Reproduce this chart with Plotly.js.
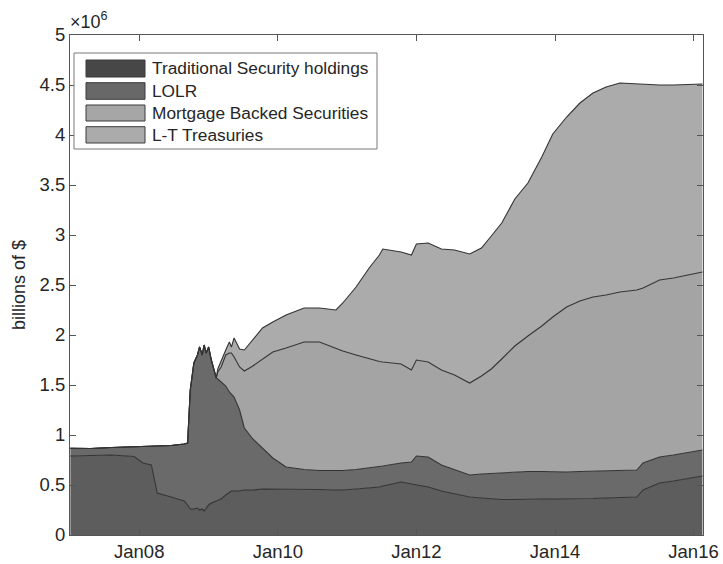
<!DOCTYPE html>
<html>
<head>
<meta charset="utf-8">
<script src="https://cdn.plot.ly/plotly-3.0.1.min.js"></script>
<style>html,body{margin:0;padding:0;background:#fff;}#chart{width:723px;height:564px;}</style>
</head>
<body>
<div id="chart"></div>
<script>
// Dates of observations
const dates = [
 '2007-01-03','2007-04-20','2007-08-08','2007-12-05','2008-01-20','2008-03-05','2008-04-05','2008-06-17',
 '2008-08-25','2008-09-12','2008-09-26','2008-10-15','2008-11-03','2008-11-14','2008-11-28','2008-12-08',
 '2008-12-19','2009-01-01','2009-01-15','2009-02-10','2009-02-18','2009-03-08','2009-04-01','2009-04-20',
 '2009-05-01','2009-05-15','2009-06-13','2009-07-08','2009-08-22','2009-10-12','2009-12-05','2010-02-13',
 '2010-05-19','2010-08-08','2010-11-03','2010-12-09','2011-02-17','2011-04-27','2011-06-20','2011-07-08',
 '2011-10-12','2011-12-06','2012-01-01','2012-03-03','2012-05-12','2012-07-20','2012-10-08','2012-12-09',
 '2013-01-30','2013-03-26','2013-06-03','2013-08-11','2013-10-23','2013-12-20','2014-03-03','2014-05-12',
 '2014-07-20','2014-09-27','2014-12-09','2015-03-08','2015-04-10','2015-07-06','2015-09-17','2016-02-17'
];
// Values in units of 10^6
const traditional = [
 0.79,0.795,0.80,0.785,0.72,0.70,0.42,0.38,
 0.34,0.30,0.26,0.26,0.27,0.25,0.26,0.24,
 0.27,0.30,0.32,0.34,0.35,0.36,0.40,0.43,
 0.44,0.44,0.44,0.45,0.45,0.46,0.46,0.46,
 0.455,0.455,0.45,0.45,0.46,0.47,0.48,0.49,
 0.53,0.51,0.50,0.48,0.44,0.41,0.38,0.37,
 0.36,0.355,0.355,0.36,0.36,0.36,0.36,0.36,
 0.365,0.37,0.375,0.38,0.45,0.52,0.54,0.59
];
const lolr = [
 0.078,0.07,0.075,0.097,0.165,0.185,0.47,0.515,
 0.57,0.62,1.19,1.46,1.53,1.63,1.54,1.66,
 1.55,1.58,1.43,1.23,1.21,1.17,1.09,1.00,
 0.97,0.94,0.81,0.62,0.51,0.41,0.31,0.22,
 0.20,0.19,0.195,0.195,0.195,0.20,0.20,0.20,
 0.19,0.22,0.29,0.30,0.26,0.24,0.22,0.24,
 0.255,0.265,0.275,0.275,0.275,0.27,0.27,0.275,
 0.275,0.275,0.27,0.27,0.27,0.26,0.26,0.26
];
const mbs = [
 0,0,0,0,0,0,0,0,
 0,0,0,0,0,0,0,0,
 0,0,0,0,0.07,0.15,0.31,0.39,
 0.41,0.40,0.43,0.57,0.73,0.89,1.06,1.19,
 1.275,1.285,1.225,1.195,1.145,1.09,1.055,1.04,
 0.99,0.92,0.96,0.95,0.95,0.95,0.92,0.98,
 1.045,1.14,1.26,1.355,1.455,1.55,1.65,1.705,
 1.74,1.755,1.785,1.80,1.75,1.77,1.77,1.78
];
const ltTreasuries = [
 0,0,0,0,0,0,0,0,
 0,0,0,0,0,0,0,0,
 0,0,0,0,0.03,0.07,0.05,0.11,
 0.06,0.19,0.18,0.21,0.26,0.31,0.30,0.33,
 0.34,0.34,0.38,0.48,0.68,0.91,1.065,1.13,
 1.12,1.15,1.16,1.19,1.21,1.25,1.29,1.28,
 1.33,1.36,1.47,1.53,1.69,1.83,1.90,1.98,
 2.04,2.08,2.09,2.06,2.04,1.95,1.93,1.88
];
const seriesNames = ['Traditional Security holdings','LOLR','Mortgage Backed Securities','L-T Treasuries'];
const fillColors = ['#5d5d5d','#6a6a6a','#a4a4a4','#ababab'];
const legendColors = ['#474747','#686868','#a6a6a6','#ababab'];
const tickDates = ['2008-01-01','2010-01-01','2012-01-01','2014-01-01','2016-01-01'];
const tickLabels = ['Jan08','Jan10','Jan12','Jan14','Jan16'];
const yTicks = [0,0.5,1,1.5,2,2.5,3,3.5,4,4.5,5];
const yTickLabels = ['0','0.5','1','1.5','2','2.5','3','3.5','4','4.5','5'];

const FONT = '"Liberation Sans", Helvetica, Arial, sans-serif';
const TXT = '#262626';

const allSeries = [traditional, lolr, mbs, ltTreasuries];
const traces = allSeries.map((vals, i) => ({
  type: 'scatter', mode: 'lines', x: dates, y: vals, name: seriesNames[i],
  stackgroup: 'one', fillcolor: fillColors[i],
  line: {color: '#333333', width: 1.1, shape: 'linear'},
  showlegend: false, hoverinfo: 'x+y+name'
}));

// custom legend (MATLAB-like)
const shapes = [{type:'rect', xref:'paper', yref:'paper', x0:0.0063, x1:0.485, y0:0.772, y1:0.964,
  fillcolor:'#ffffff', line:{color:'#7a7a7a', width:1}, layer:'above'}];
const annotations = [];
const rowTop = [0.95, 0.9046, 0.86, 0.8166];
const rowBot = [0.916, 0.8714, 0.828, 0.784];
for (let i = 0; i < 4; i++) {
  shapes.push({type:'rect', xref:'paper', yref:'paper', x0:0.0253, x1:0.1185, y0:rowBot[i], y1:rowTop[i],
    fillcolor: legendColors[i], line:{color:'#3a3a3a', width:1}, layer:'above'});
  annotations.push({xref:'paper', yref:'paper', x:0.1265, y:(rowTop[i]+rowBot[i])/2, xanchor:'left', yanchor:'middle',
    text: seriesNames[i], showarrow:false, font:{family:FONT, size:17.3, color:TXT}});
}
annotations.push({xref:'paper', yref:'paper', x:0.0, y:1.0, xanchor:'left', yanchor:'bottom', yshift:1, xshift:-2,
  text:'×10<sup>6</sup>', showarrow:false, font:{family:FONT, size:18, color:TXT}});

const layout = {
  width: 723, height: 564,
  margin: {l:70, r:20, t:35, b:29, pad:0},
  paper_bgcolor:'#ffffff', plot_bgcolor:'#ffffff',
  font: {family: FONT, size: 18, color: TXT},
  showlegend: false,
  xaxis: {
    type:'date', range:['2007-01-01','2016-02-20'],
    tickmode:'array', tickvals: tickDates, ticktext: tickLabels,
    ticks:'inside', ticklen:6, tickcolor:'#555', tickwidth:1,
    showline:true, linecolor:'#555', linewidth:1, mirror:'ticks',
    showgrid:false, zeroline:false, tickfont:{family:FONT, size:18.5, color:TXT}
  },
  yaxis: {
    range:[0,5], tickmode:'array', tickvals:yTicks, ticktext:yTickLabels,
    ticks:'inside', ticklen:6, tickcolor:'#555', tickwidth:1,
    showline:true, linecolor:'#555', linewidth:1, mirror:'ticks',
    showgrid:false, zeroline:false, tickfont:{family:FONT, size:18.5, color:TXT},
    title:{text:'billions of $', font:{family:FONT, size:18, color:TXT}, standoff:9}
  },
  shapes: shapes,
  annotations: annotations
};
Plotly.newPlot('chart', traces, layout, {staticPlot:true, displayModeBar:false});
</script>
</body>
</html>
